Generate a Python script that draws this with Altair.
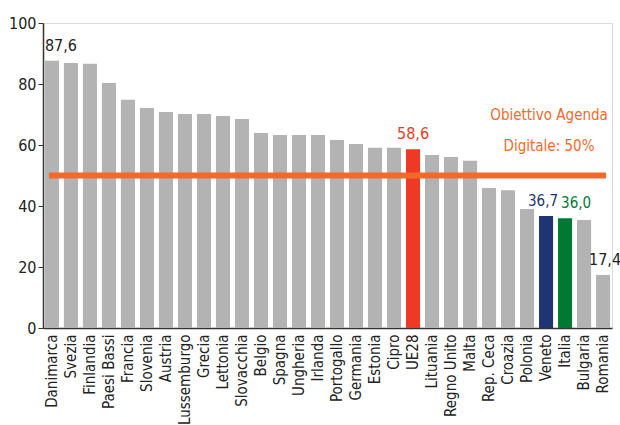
import altair as alt
import pandas as pd

countries = ["Danimarca", "Svezia", "Finlandia", "Paesi Bassi", "Francia", "Slovenia", "Austria",
             "Lussemburgo", "Grecia", "Lettonia", "Slovacchia", "Belgio", "Spagna", "Ungheria",
             "Irlanda", "Portogallo", "Germania", "Estonia", "Cipro", "UE28", "Lituania",
             "Regno Unito", "Malta", "Rep. Ceca", "Croazia", "Polonia", "Veneto", "Italia",
             "Bulgaria", "Romania"]
values = [87.6, 86.9, 86.6, 80.3, 74.8, 72.1, 70.8, 70.2, 70.2, 69.5, 68.5, 63.9, 63.3, 63.3,
          63.3, 61.6, 60.3, 59.1, 59.1, 58.6, 56.7, 56.1, 54.8, 45.9, 45.2, 39.0, 36.7, 36.0,
          35.4, 17.4]
bar_colors = ["#B3B3B3"] * 30
bar_colors[19] = "#EE3A24"
bar_colors[26] = "#1F3473"
bar_colors[27] = "#007A33"

label_countries = ["Danimarca", "UE28", "Veneto", "Italia", "Romania"]
label_texts = ["87,6", "58,6", "36,7", "36,0", "17,4"]
label_colors = ["#222222", "#EE3A24", "#1F3473", "#007A33", "#222222"]
label_dx = [9, 0, -3, 11, 2]
label_size = [16, 16, 15, 15, 16]

target = 50
note_lines = ["Obiettivo Agenda", "Digitale: 50%"]

FONT = "DejaVu Sans Condensed"

df = pd.DataFrame({"country": countries, "value": values, "color": bar_colors})
lab = pd.DataFrame({"country": label_countries, "text": label_texts, "color": label_colors,
                    "value": [values[countries.index(c)] for c in label_countries],
                    "dx": label_dx, "size": label_size})

xscale = alt.Scale(domain=countries, paddingInner=0.26, paddingOuter=0.1)

xenc = alt.X("country:N", sort=None, title=None, scale=xscale,
             axis=alt.Axis(labelAngle=-90, labelFont=FONT, labelFontSize=15, labelColor="#222222",
                           ticks=False, domainColor="#333333", domainWidth=1.5, labelPadding=6))
yenc = alt.Y("value:Q", title=None, scale=alt.Scale(domain=[0, 100]),
             axis=alt.Axis(values=[0, 20, 40, 60, 80, 100], grid=False, labelFont=FONT,
                           labelFontSize=16, labelColor="#222222", domainColor="#333333",
                           domainWidth=1.5, tickColor="#333333", tickSize=5, labelPadding=2))

bars = alt.Chart(df).mark_bar().encode(x=xenc, y=yenc, color=alt.Color("color:N", scale=None))

rule = alt.Chart(pd.DataFrame({"a": [countries[0]], "b": [countries[-1]], "y": [target]})).mark_rule(
    color="#F26A2A", strokeWidth=6, strokeCap="square").encode(
    x=alt.X("a:N", sort=None, scale=xscale), x2="b:N", y="y:Q")

labels = []
for i, row in lab.iterrows():
    labels.append(alt.Chart(lab.iloc[[i]]).mark_text(
        font=FONT, fontSize=int(row["size"]), baseline="bottom", dy=-7, dx=int(row["dx"]),
        color=row["color"]
    ).encode(x=alt.X("country:N", sort=None, scale=xscale), y="value:Q", text="text:N"))

note = alt.Chart(pd.DataFrame({"c": ["Veneto"], "y": [70]})).mark_text(
    font=FONT, fontSize=15, color="#F26A2A", baseline="middle", lineHeight=31, dx=3,
    text=note_lines).encode(x=alt.X("c:N", sort=None, scale=xscale), y="y:Q")

chart = alt.layer(bars, rule, *labels, note).properties(
    width=569, height=305,
    autosize=alt.AutoSizeParams(type="none"),
    padding={"left": 43, "top": 23, "right": 8, "bottom": 97},
).configure_view(stroke=None).configure(background="white")

chart.save("out.html", embed_options={"renderer": "svg", "actions": False})
